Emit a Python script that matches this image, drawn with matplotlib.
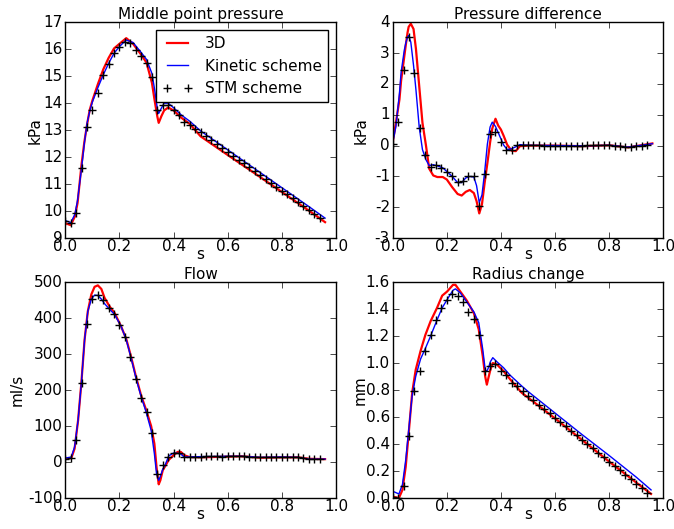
import matplotlib
matplotlib.use('Agg')
import matplotlib.pyplot as plt

# STM scheme samples (every 0.02 s)
t_stm = [0.00, 0.02, 0.04, 0.06, 0.08, 0.10, 0.12, 0.14, 0.16, 0.18,
         0.20, 0.22, 0.24, 0.26, 0.28, 0.30, 0.32, 0.34, 0.36, 0.38,
         0.40, 0.42, 0.44, 0.46, 0.48, 0.50, 0.52, 0.54, 0.56, 0.58,
         0.60, 0.62, 0.64, 0.66, 0.68, 0.70, 0.72, 0.74, 0.76, 0.78,
         0.80, 0.82, 0.84, 0.86, 0.88, 0.90, 0.92, 0.94]

# --- Middle point pressure (kPa)
t_pm = [0.00, 0.02, 0.035, 0.045, 0.06, 0.07, 0.08, 0.09, 0.10, 0.12,
        0.14, 0.16, 0.18, 0.20, 0.225, 0.25, 0.28, 0.30, 0.32, 0.33,
        0.34, 0.345, 0.355, 0.365, 0.38, 0.40, 0.43, 0.46, 0.50, 0.60,
        0.70, 0.80, 0.90, 0.96]
pm_3d = [9.55, 9.48, 9.80, 10.30, 11.75, 12.55, 13.20, 13.75, 14.10, 14.70,
         15.25, 15.68, 16.03, 16.20, 16.41, 16.20, 15.80, 15.50, 14.75, 14.10,
         13.50, 13.27, 13.52, 13.73, 13.84, 13.73, 13.45, 13.23, 12.77, 12.08,
         11.40, 10.71, 10.02, 9.59]
pm_kin = [9.65, 9.57, 9.88, 10.40, 11.60, 12.50, 13.25, 13.70, 14.05, 14.57,
          15.05, 15.48, 15.85, 16.10, 16.34, 16.25, 15.88, 15.62, 15.10, 14.50,
          13.80, 13.62, 13.82, 14.00, 14.00, 13.83, 13.55, 13.33, 12.97, 12.27,
          11.57, 10.87, 10.17, 9.74]
pm_stm = [9.62, 9.55, 9.94, 11.60, 13.10, 13.75, 14.37, 15.06, 15.44, 15.85,
          16.09, 16.27, 16.22, 15.97, 15.75, 15.50, 14.97, 13.75, 13.94, 13.94,
          13.75, 13.56, 13.31, 13.19, 13.06, 12.92, 12.77, 12.63, 12.48, 12.34,
          12.20, 12.05, 11.91, 11.77, 11.62, 11.48, 11.33, 11.19, 11.05, 10.90,
          10.76, 10.62, 10.47, 10.33, 10.18, 10.04, 9.90, 9.75]

# --- Pressure difference (kPa)
t_pd = [0.00, 0.012, 0.025, 0.031, 0.043, 0.049, 0.055, 0.059, 0.067, 0.077,
        0.086, 0.098, 0.11, 0.123, 0.135, 0.15, 0.165, 0.185, 0.20, 0.22,
        0.24, 0.255, 0.27, 0.285, 0.30, 0.31, 0.32, 0.33, 0.34, 0.35,
        0.36, 0.368, 0.38, 0.39, 0.40, 0.41, 0.423, 0.44, 0.455, 0.47,
        0.50, 0.60, 0.70, 0.80, 0.87, 0.96]
pd_3d = [0.09, 0.75, 1.50, 2.10, 2.90, 3.30, 3.67, 3.85, 3.95, 3.78,
         3.13, 1.93, 0.74, 0.00, -0.75, -0.97, -1.02, -1.02, -1.10, -1.35,
         -1.57, -1.62, -1.50, -1.44, -1.54, -1.80, -2.20, -1.90, -1.20, -0.57,
         0.10, 0.55, 0.87, 0.65, 0.52, 0.32, 0.03, -0.17, -0.18, -0.02,
         0.00, 0.00, -0.02, 0.01, -0.06, 0.07]
pd_kin = [0.08, 0.63, 1.70, 2.37, 3.10, 3.35, 3.52, 3.57, 3.35, 2.60,
          1.80, 0.60, -0.13, -0.46, -0.65, -0.62, -0.66, -0.72, -0.84, -1.00,
          -1.20, -1.20, -1.05, -1.00, -1.02, -1.30, -1.85, -1.60, -0.85, 0.05,
          0.60, 0.76, 0.62, 0.42, 0.22, 0.02, -0.13, -0.10, -0.04, 0.03,
          0.01, 0.00, -0.01, 0.01, -0.05, 0.06]
pd_stm = [0.05, 0.77, 2.46, 3.51, 2.35, 0.58, -0.32, -0.70, -0.64, -0.73,
          -0.86, -1.00, -1.18, -1.16, -0.98, -1.00, -1.95, -0.91, 0.36, 0.45,
          0.11, -0.13, -0.13, 0.03, 0.03, 0.02, 0.01, 0.01, 0.00, 0.00,
          0.00, 0.00, 0.00, 0.00, 0.00, 0.00, 0.01, 0.03, 0.03, 0.02,
          0.02, 0.00, -0.03, -0.05, -0.05, -0.02, 0.00, 0.03]

# --- Flow (ml/s)
t_fl = [0.00, 0.022, 0.034, 0.047, 0.059, 0.071, 0.083, 0.096, 0.108, 0.12,
        0.133, 0.145, 0.163, 0.182, 0.206, 0.225, 0.243, 0.261, 0.28, 0.298,
        0.317, 0.329, 0.337, 0.345, 0.351, 0.36, 0.37, 0.382, 0.40, 0.415,
        0.427, 0.439, 0.458, 0.50, 0.60, 0.65, 0.72, 0.80, 0.86, 0.90,
        0.96]
fl_3d = [9, 11, 37, 116, 219, 340, 419, 466, 487, 491,
         481, 456, 433, 414, 377, 342, 292, 237, 185, 146,
         100, 51, -14, -62, -51, -23, -10, 6, 19, 28,
         28, 19, 14, 13, 15, 16, 12, 13, 13, 9,
         8]
fl_kin = [11, 14, 42, 116, 219, 340, 419, 453, 464, 463,
          453, 440, 425, 410, 377, 340, 289, 233, 182, 140,
          88, 23, -33, -51, -40, -20, -6, 17, 25, 24,
          22, 14, 14, 15, 16, 16, 13, 14, 13, 8,
          8]
fl_stm = [9, 11, 60, 221, 384, 452, 463, 450, 428, 412,
          382, 347, 291, 231, 177, 138, 82, -34, -7, 14,
          26, 25, 14, 14, 14, 15, 16, 16, 16, 15,
          16, 16, 17, 16, 15, 14, 13, 13, 13, 14,
          14, 14, 14, 13, 11, 8, 8, 8]

# --- Radius change (mm)
t_rc = [0.00, 0.023, 0.036, 0.048, 0.06, 0.072, 0.085, 0.103, 0.121, 0.14,
        0.164, 0.183, 0.201, 0.223, 0.232, 0.25, 0.275, 0.30, 0.318, 0.333,
        0.342, 0.348, 0.355, 0.361, 0.37, 0.385, 0.41, 0.434, 0.477, 0.50,
        0.60, 0.70, 0.80, 0.90, 0.955]
rc_3d = [0.01, 0.00, 0.06, 0.23, 0.50, 0.78, 0.95, 1.09, 1.21, 1.31,
         1.41, 1.50, 1.53, 1.58, 1.58, 1.53, 1.46, 1.37, 1.25, 1.05,
         0.90, 0.84, 0.90, 0.95, 1.00, 0.99, 0.94, 0.88, 0.78, 0.745,
         0.59, 0.43, 0.27, 0.115, 0.03]
rc_kin = [0.05, 0.03, 0.10, 0.28, 0.52, 0.76, 0.90, 1.03, 1.11, 1.20,
          1.32, 1.41, 1.47, 1.54, 1.55, 1.52, 1.45, 1.38, 1.30, 1.10,
          0.95, 0.94, 0.97, 1.01, 1.04, 1.01, 0.965, 0.91, 0.83, 0.79,
          0.63, 0.47, 0.315, 0.155, 0.06]
rc_stm = [0.01, 0.00, 0.09, 0.46, 0.79, 0.94, 1.09, 1.21, 1.32, 1.41,
          1.47, 1.51, 1.50, 1.45, 1.38, 1.33, 1.21, 0.94, 0.98, 0.99,
          0.94, 0.91, 0.85, 0.83, 0.79, 0.757, 0.725, 0.692, 0.66, 0.627,
          0.595, 0.562, 0.53, 0.497, 0.464, 0.432, 0.399, 0.367, 0.334, 0.302,
          0.269, 0.236, 0.204, 0.171, 0.139, 0.106, 0.073, 0.04]

plt.style.use('classic')
plt.rcParams['font.family'] = ['DejaVu Sans']
plt.rcParams['font.size'] = 11
plt.rcParams['axes.titlesize'] = 11
plt.rcParams['axes.labelsize'] = 11
plt.rcParams['legend.fontsize'] = 11
plt.rcParams['axes.titlepad'] = 2
plt.rcParams['xtick.major.pad'] = 1
plt.rcParams['ytick.major.pad'] = 2
plt.rcParams['axes.unicode_minus'] = False

fig, axs = plt.subplots(2, 2, figsize=(6.74, 5.29), dpi=100)
fig.patch.set_facecolor('white')
fig.subplots_adjust(left=0.097, right=0.984, bottom=0.0586, top=0.958,
                    wspace=0.21, hspace=0.204)

panels = [
    (axs[0, 0], t_pm, pm_3d, pm_kin, pm_stm, 'Middle point pressure', 'kPa', (9, 17), -0.085),
    (axs[0, 1], t_pd, pd_3d, pd_kin, pd_stm, 'Pressure difference', 'kPa', (-3, 4), -0.088),
    (axs[1, 0], t_fl, fl_3d, fl_kin, fl_stm, 'Flow', 'ml/s', (-100, 500), -0.152),
    (axs[1, 1], t_rc, rc_3d, rc_kin, rc_stm, 'Radius change', 'mm', (0, 1.6), -0.094),
]

for ax, t, y3d, ykin, ystm, title, unit, ylim, ylab_x in panels:
    ax.plot(t, y3d, color='red', lw=1.6, label='3D')
    ax.plot(t, ykin, color='blue', lw=1.0, label='Kinetic scheme')
    ax.plot(t_stm, ystm, ls='none', marker='+', color='black', ms=6, mew=1.0,
            label='STM scheme')
    ax.set_xlim(0, 1.0)
    ax.set_ylim(*ylim)
    ax.set_title(title)
    ax.set_xlabel('s')
    ax.set_ylabel(unit)
    ax.xaxis.set_label_coords(0.5, -0.04)
    ax.yaxis.set_label_coords(ylab_x, 0.5)

axs[0, 0].legend(loc='upper right', numpoints=2)

fig.savefig('out.png', dpi=100, facecolor='white')
